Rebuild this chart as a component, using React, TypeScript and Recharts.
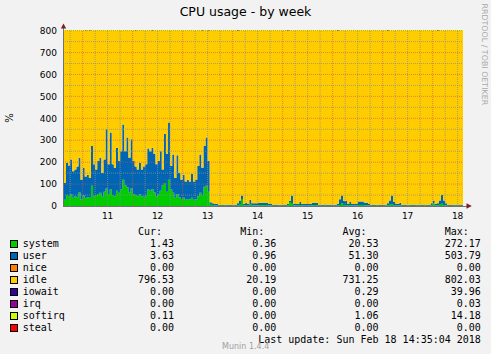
import React from 'react';
import { AreaChart, Area, XAxis, YAxis, ReferenceLine } from 'recharts';

// one sample per hour, hour 0 = Sat Feb 10 00:00
const firstHour = 14;
const windowEnd = 206.58; // Sun Feb 18 14:35
const windowStart = windowEnd - 192;

const systemVals = [
  30, 28, 50, 42, 55, 38, 45, 40, 62, 30, 48, 35,
  40, 38, 92, 45, 50, 55, 60, 42, 65, 80, 55, 75,
  50, 45, 70, 60, 75, 120, 95, 85, 62, 80, 55, 50,
  45, 52, 44, 42, 50, 75, 70, 78, 62, 45, 55, 70,
  95, 105, 65, 120, 75, 60, 38, 55, 40, 32, 38, 28,
  32, 30, 38, 28, 30, 45, 60, 50, 88, 92, 65, 6,
  4, 2, 2, 1.5, 1, 1.5, 2, 1, 1.5, 1, 2, 1.5,
  3, 6, 28, 2, 4, 2, 7, 3, 3, 2, 3, 4,
  3, 4, 3, 2, 2, 1.5, 1, 1.5, 2, 1, 1.5, 1,
  2, 18, 10, 2, 2, 2, 4, 2, 2, 1.5, 2, 2,
  3, 4, 3, 1.5, 1, 1.5, 2, 1, 1.5, 1, 2, 1.5,
  2, 5, 12, 4, 4, 2, 4, 2, 2, 2, 4, 5,
  4, 3, 3, 2, 1.5, 1, 1.5, 2, 1, 1.5, 1, 2,
  3, 6, 8, 4, 2, 2, 3, 1.5, 1, 1.5, 2, 1,
  1.5, 1, 2, 1.5, 1, 1.5, 2, 1, 1.5, 3, 12, 2,
  3, 6, 10, 5, 3, 1.5, 1, 1.5, 2, 1, 1.5, 1,
  1.5, 1.5,
];

const userVals = [
  70, 77, 147, 143, 157, 120, 121, 140, 158, 90, 126, 100,
  103, 90, 182, 145, 116, 150, 160, 109, 147, 270, 135, 260,
  140, 130, 196, 145, 175, 252, 155, 227, 158, 225, 150, 130,
  121, 145, 122, 138, 140, 187, 180, 188, 176, 145, 150, 180,
  71, 223, 173, 261, 107, 175, 90, 177, 110, 88, 105, 84,
  88, 82, 108, 84, 90, 137, 175, 124, 186, 220, 140, 11,
  8, 7, 7, 3.5, 4, 3, 4, 3.5, 4.5, 3, 3.5, 4,
  9, 19, 20, 7, 11, 7, 21, 9, 9, 10, 12, 11,
  12, 11, 12, 7, 7, 3.5, 4, 3, 3.5, 4, 3, 4,
  7, 5, 38, 7, 7, 7, 14, 7, 7, 7.5, 7, 7,
  12, 11, 12, 4.5, 5, 4, 4.5, 5, 4, 5, 4, 4.5,
  7, 26, 36, 19, 19, 7, 14, 7, 7, 7, 16, 15,
  16, 12, 12, 7, 3.5, 4, 3, 3.5, 4, 3, 4, 3.5,
  9, 19, 40, 14, 7, 7, 12, 3.5, 4, 3, 3.5, 4,
  3, 4, 3.5, 3, 4, 3.5, 3, 4, 3.5, 9, 13, 7,
  9, 19, 41, 20, 9, 3.5, 4, 3, 3.5, 4, 3, 4,
  3.5, 3.5,
];

const idleVals = [
  700, 695, 603, 615, 588, 642, 634, 620, 580, 680, 626, 665,
  657, 672, 526, 610, 634, 595, 580, 649, 588, 450, 610, 465,
  610, 625, 534, 595, 550, 428, 550, 488, 580, 495, 595, 620,
  634, 603, 634, 620, 610, 538, 550, 534, 562, 610, 595, 550,
  634, 472, 562, 419, 618, 565, 672, 568, 650, 680, 657, 688,
  680, 688, 654, 688, 680, 618, 565, 626, 526, 488, 595, 783,
  788, 791, 791, 795, 795, 795.5, 794, 795.5, 794, 796, 794.5, 794.5,
  788, 775, 752, 791, 785, 791, 772, 788, 788, 788, 785, 785,
  785, 785, 785, 791, 791, 795, 795, 795.5, 794.5, 795, 795.5, 795,
  791, 777, 752, 791, 791, 791, 782, 791, 791, 791, 791, 791,
  785, 785, 785, 794, 794, 794.5, 793.5, 794, 794.5, 794, 794, 794,
  791, 769, 752, 777, 777, 791, 782, 791, 791, 791, 780, 780,
  780, 785, 785, 791, 795, 795, 795.5, 794.5, 795, 795.5, 795, 794.5,
  788, 775, 752, 782, 791, 791, 785, 795, 795, 795.5, 794.5, 795,
  795.5, 795, 794.5, 795.5, 795, 795, 795, 795, 795, 788, 775, 791,
  788, 775, 749, 775, 788, 795, 795, 795.5, 794.5, 795, 795.5, 795,
  795, 795,
];

const softirqVals = [
  0.5, 0.5, 0.6, 0.5, 0.6, 0.4, 0.5, 0.5, 0.6, 0.4, 0.5, 0.5,
  0.5, 0.4, 0.7, 0.5, 0.5, 0.5, 0.6, 0.4, 0.5, 0.8, 0.5, 0.7,
  0.5, 0.5, 0.6, 0.5, 0.6, 0.9, 0.6, 0.7, 0.5, 0.7, 0.5, 0.5,
  0.5, 0.5, 0.4, 0.5, 0.5, 0.6, 0.6, 0.6, 0.5, 0.5, 0.5, 0.6,
  0.5, 0.7, 0.5, 0.8, 0.5, 0.5, 0.4, 0.6, 0.4, 0.4, 0.4, 0.4,
  0.4, 0.4, 0.5, 0.4, 0.4, 0.5, 0.6, 0.5, 0.7, 0.7, 0.5, 1.2,
  1.5, 1.5, 1.4, 1.5, 1.6, 1.5, 1.5, 1.4, 1.5, 1.5, 1.6, 1.5,
  1.6, 1.8, 2.2, 1.5, 1.6, 1.5, 1.8, 1.5, 1.5, 1.5, 1.6, 1.5,
  1.5, 1.5, 1.5, 1.4, 1.5, 1.5, 1.5, 1.6, 1.5, 1.4, 1.5, 1.5,
  1.5, 1.7, 2.1, 1.5, 1.5, 1.5, 1.6, 1.5, 1.5, 1.4, 1.5, 1.5,
  1.6, 1.5, 1.5, 1.5, 1.4, 1.5, 1.5, 1.5, 1.6, 1.5, 1.5, 1.5,
  1.5, 1.8, 2.2, 1.7, 1.6, 1.5, 1.6, 1.5, 1.5, 1.5, 1.6, 1.6,
  1.6, 1.5, 1.5, 1.5, 1.4, 1.5, 1.5, 1.5, 1.5, 1.4, 1.5, 1.5,
  1.5, 1.7, 2.1, 1.6, 1.5, 1.5, 1.6, 1.5, 1.5, 1.5, 1.4, 1.5,
  1.5, 1.5, 1.4, 1.5, 1.5, 1.5, 1.5, 1.4, 1.5, 1.5, 1.7, 1.5,
  1.5, 1.7, 2.2, 1.7, 1.5, 1.5, 1.5, 1.4, 1.5, 1.5, 1.5, 1.5,
  1.5, 1.5,
];

// short iowait bursts poking above the idle band
const iowaitHours = [25, 27, 49, 57, 81, 84, 98, 122, 146, 170, 194];
const iowaitLevels = [3, 3, 3, 3, 3, 3, 3, 3, 3, 3, 3];

const dayLabels = ['11', '12', '13', '14', '15', '16', '17', '18'];
const yTicks = [0, 100, 200, 300, 400, 500, 600, 700, 800];

const seriesNames = ['system', 'user', 'nice', 'idle', 'iowait', 'irq', 'softirq', 'steal'];
const seriesColors = ['#00CC00', '#0066B3', '#FF8000', '#FFCC00', '#330099', '#990099', '#CCFF00', '#FF0000'];
const curValues = ['1.43', '3.63', '0.00', '796.53', '0.00', '0.00', '0.11', '0.00'];
const minValues = ['0.36', '0.96', '0.00', '20.19', '0.00', '0.00', '0.00', '0.00'];
const avgValues = ['20.53', '51.30', '0.00', '731.25', '0.29', '0.00', '1.06', '0.00'];
const maxValues = ['272.17', '503.79', '0.00', '802.03', '39.96', '0.03', '14.18', '0.00'];

const data = systemVals.map((v, i) => {
  const t = firstHour + i;
  const k = iowaitHours.indexOf(t);
  return {
    t,
    system: v,
    user: userVals[i],
    idle: idleVals[i],
    iowait: k >= 0 ? iowaitLevels[k] : 0,
    softirq: softirqVals[i],
  };
});

const noonTicks = dayLabels.map((d) => (Number(d) - 10) * 24 + 12);
const midnights = dayLabels.map((d) => (Number(d) - 10) * 24);
const sixHours: number[] = [];
for (let h = 18; h < windowEnd; h += 6) if (h % 24 !== 0) sixHours.push(h);
const minorY = [50, 150, 250, 350, 450, 550, 650, 750];

const sans = 'DejaVu Sans, sans-serif';
const mono = 'DejaVu Sans Mono, monospace';
const minorGrid = { stroke: '#8f8f8f', strokeOpacity: 0.75, strokeDasharray: '1 1' };
const majorGrid = { stroke: '#de4f4f', strokeOpacity: 0.6, strokeDasharray: '1 1' };

function Legend() {
  const colEnds = [174, 276.3, 378.6, 480.9];
  const cols = [curValues, minValues, avgValues, maxValues];
  const heads = ['Cur:', 'Min:', 'Avg:', 'Max:'];
  return (
    <g fontFamily={mono} fontSize={10} fill="#000">
      {heads.map((h, j) => (
        <text key={h} x={colEnds[j] - 12} y={235} textAnchor="end">{h}</text>
      ))}
      {seriesNames.map((name, i) => {
        const y = 247 + i * 12;
        return (
          <g key={name}>
            <rect x={10.5} y={y - 6.5} width={7} height={7} fill={seriesColors[i]} stroke="#000" strokeWidth={1} />
            <text x={22.7} y={y}>{name}</text>
            {cols.map((c, j) => (
              <text key={j} x={colEnds[j]} y={y} textAnchor="end">{c[i]}</text>
            ))}
          </g>
        );
      })}
      <text x={480.9} y={343} textAnchor="end">Last update: Sun Feb 18 14:35:04 2018</text>
    </g>
  );
}

export default function App() {
  return (
    <div style={{ position: 'absolute', left: 0, top: 0, width: 491, height: 354, background: '#f2f2f2', overflow: 'hidden' }}>
      <div style={{ position: 'absolute', left: 0, top: 0 }}>
        <AreaChart width={491} height={230} data={data} margin={{ top: 30, right: 28, bottom: 0, left: 0 }}>
          <XAxis
            dataKey="t"
            type="number"
            domain={[windowStart, windowEnd]}
            allowDataOverflow
            ticks={noonTicks}
            tickFormatter={(v: number) => dayLabels[noonTicks.indexOf(v)] ?? ''}
            axisLine={false}
            tickLine={false}
            tickMargin={1}
            height={24}
            tick={{ fill: '#000', fontSize: 9, fontFamily: sans }}
          />
          <YAxis
            type="number"
            domain={[0, 803]}
            allowDataOverflow
            ticks={yTicks}
            axisLine={false}
            tickLine={false}
            tickMargin={0}
            width={63}
            tick={{ fill: '#000', fontSize: 9, fontFamily: sans }}
          />
          <Area type="stepAfter" dataKey="system" stackId="cpu" fill="#00CC00" fillOpacity={1} stroke="none" isAnimationActive={false} dot={false} activeDot={false} />
          <Area type="stepAfter" dataKey="user" stackId="cpu" fill="#0066B3" fillOpacity={1} stroke="none" isAnimationActive={false} dot={false} activeDot={false} />
          <Area type="stepAfter" dataKey="idle" stackId="cpu" fill="#FFCC00" fillOpacity={1} stroke="none" isAnimationActive={false} dot={false} activeDot={false} />
          <Area type="stepAfter" dataKey="iowait" stackId="cpu" fill="#330099" fillOpacity={1} stroke="none" isAnimationActive={false} dot={false} activeDot={false} />
          <Area type="stepAfter" dataKey="softirq" stackId="cpu" fill="#CCFF00" fillOpacity={1} stroke="#CCFF00" strokeWidth={1} isAnimationActive={false} dot={false} activeDot={false} />
          {sixHours.map((h) => (
            <ReferenceLine key={'mx' + h} x={h} {...minorGrid} />
          ))}
          {minorY.map((v) => (
            <ReferenceLine key={'my' + v} y={v} {...minorGrid} />
          ))}
          {midnights.map((h) => (
            <ReferenceLine key={'Mx' + h} x={h} {...majorGrid} />
          ))}
          {yTicks.slice(1).map((v) => (
            <ReferenceLine key={'My' + v} y={v} {...majorGrid} />
          ))}
        </AreaChart>
      </div>
      <svg width={491} height={354} style={{ position: 'absolute', left: 0, top: 0, pointerEvents: 'none' }}>
        <text x={245.5} y={16} textAnchor="middle" fontFamily={sans} fontSize={12.5} fill="#000">CPU usage - by week</text>
        <text x={13} y={118} textAnchor="middle" fontFamily={sans} fontSize={10} fill="#000" transform="rotate(-90 13 118)">%</text>
        <text x={481.5} y={3.5} fontFamily={sans} fontSize={7.9} fill="#a8a8a8" transform="rotate(90 481.5 3.5)">RRDTOOL / TOBI OETIKER</text>
        <line x1={63.5} y1={206.5} x2={63.5} y2={27} stroke="#707070" strokeWidth={1} />
        <line x1={63} y1={206.5} x2={467} y2={206.5} stroke="#707070" strokeWidth={1} />
        <polygon points="60.8,28.5 66.2,28.5 63.5,23.5" fill="#801f1f" />
        <polygon points="466.5,203.3 466.5,208.7 471.8,206" fill="#801f1f" />
        <Legend />
        <text x={245.7} y={349} textAnchor="middle" fontFamily={sans} fontSize={8} fill="#a0a0a0">Munin 1.4.4</text>
      </svg>
    </div>
  );
}
